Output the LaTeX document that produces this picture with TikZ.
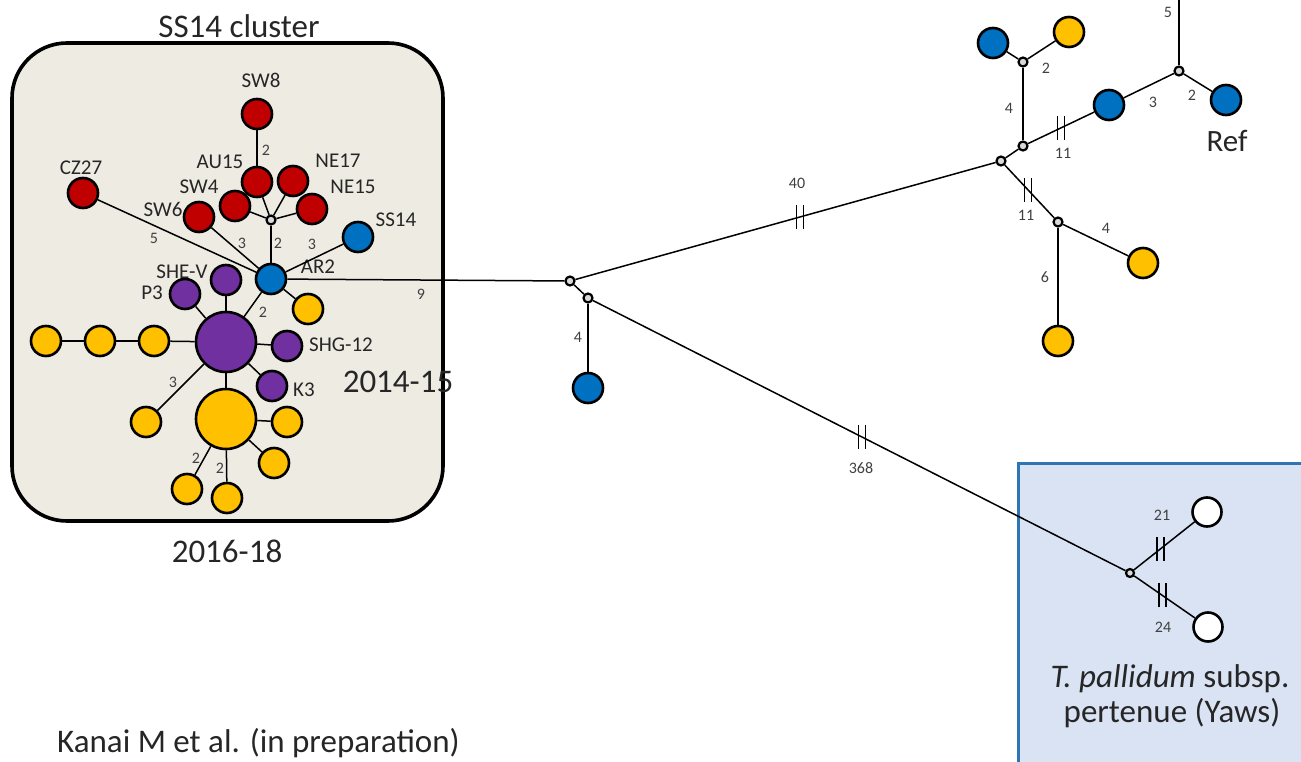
\documentclass[tikz,border=0pt]{standalone}
\usepackage{fontspec}
\setmainfont{Carlito}
\usetikzlibrary{decorations.markings}
\definecolor{cred}{HTML}{C00000}
\definecolor{cblue}{HTML}{0070C0}
\definecolor{cyel}{HTML}{FFC000}
\definecolor{cpur}{HTML}{7030A0}
\definecolor{boxfill}{HTML}{EEEBE3}
\definecolor{yawsfill}{HTML}{DAE3F3}
\definecolor{yawsline}{HTML}{2E75B6}
\definecolor{hubfill}{HTML}{D9D9D9}
\definecolor{lbl}{HTML}{404040}
\definecolor{txt}{HTML}{262626}
\tikzset{
  iso/.style={circle, draw=black, line width=2.6pt, minimum size=30pt, inner sep=0pt},
  bignode/.style={iso, minimum size=60pt},
  hub/.style={circle, draw=black, fill=hubfill, line width=2.2pt, minimum size=9pt, inner sep=0pt},
  wnode/.style={iso, fill=white, minimum size=29pt},
  lnk/.style={line width=1.5pt},
  nl/.style={font=\fontsize{21}{24}\selectfont, text=txt, inner sep=0pt},
  el/.style={font=\fontsize{16}{18}\selectfont, text=lbl, inner sep=0pt},
  bigt/.style={font=\fontsize{33}{38}\selectfont, text=txt, inner sep=0pt, anchor=base},
  brk/.style={postaction={decorate,decoration={markings,mark=at position #1 with {\pgftransformresetnontranslations\draw[line width=1.6pt] (-3.5pt,-12pt)--(-3.5pt,12pt) (3.5pt,-12pt)--(3.5pt,12pt);}}}}
}
\begin{document}
\begin{tikzpicture}[x=1pt,y=-1pt]
\useasboundingbox (0,0) rectangle (1301,762);
% boxes
\draw[line width=3.6pt, fill=boxfill, rounded corners=55pt] (12,43) rectangle (443,521);
\draw[yawsline, line width=3pt, fill=yawsfill] (1018,463) rectangle (1320,790);
% texts
\node[bigt] (tcl) at (239,38) {SS14 cluster};
\node[bigt] (t1415) at (398,392) {2014-15};
\node[bigt] (t1618) at (227,562) {2016-18};
\node[bigt, anchor=base west] (tkanai) at (57,752) {Kanai M et al. (in preparation)};
\node[bigt, font=\fontsize{31}{36}\selectfont] (tref) at (1227,152) {Ref};
\node[bigt] (ty1) at (1170,687) {\textit{T. pallidum} subsp.};
\node[bigt] (ty2) at (1172,722) {pertenue (Yaws)};
% cluster nodes
\node[iso, fill=cred] (sw8) at (257,114) {};
\node[iso, fill=cred] (au15) at (257,182) {};
\node[iso, fill=cred] (ne17) at (293,181) {};
\node[iso, fill=cred] (sw4) at (235,206) {};
\node[iso, fill=cred] (ne15) at (312,209) {};
\node[iso, fill=cred] (sw6) at (199,217) {};
\node[iso, fill=cred] (cz27) at (83,193) {};
\node[iso, fill=cblue] (ss14) at (358,237) {};
\node[hub] (h1) at (271,220) {};
\node[iso, fill=cblue] (ar2) at (271,279) {};
\node[iso, fill=cpur] (shev) at (226,280) {};
\node[iso, fill=cpur] (p3) at (185,294) {};
\node[bignode, fill=cpur] (bp) at (226,342) {};
\node[iso, fill=cyel] (y1) at (308,309) {};
\node[iso, fill=cyel] (c1) at (154,341) {};
\node[iso, fill=cyel] (c2) at (100,341) {};
\node[iso, fill=cyel] (c3) at (46,341) {};
\node[iso, fill=cpur] (shg) at (287,346) {};
\node[iso, fill=cpur] (k3) at (272,386) {};
\node[bignode, fill=cyel] (by) at (226,419) {};
\node[iso, fill=cyel] (y2) at (146,422) {};
\node[iso, fill=cyel] (y3) at (287,422) {};
\node[iso, fill=cyel] (y4) at (274,463) {};
\node[iso, fill=cyel] (y5) at (187,489) {};
\node[iso, fill=cyel] (y6) at (227,498) {};
% cluster node labels
\node[nl] (lsw8) at (261,80) {SW8};
\node[nl] (lau15) at (220,162) {AU15};
\node[nl] (lne17) at (338,161) {NE17};
\node[nl] (lsw4) at (199,187) {SW4};
\node[nl] (lne15) at (353,187) {NE15};
\node[nl] (lsw6) at (163,209) {SW6};
\node[nl] (lcz27) at (81,168) {CZ27};
\node[nl] (lss14) at (396,220) {SS14};
\node[nl] (lar2) at (318,267) {AR2};
\node[nl] (lshev) at (182,272) {SHE-V};
\node[nl] (lp3) at (152,293) {P3};
\node[nl] (lshg) at (341,345) {SHG-12};
\node[nl] (lk3) at (304,390) {K3};
% right-side nodes
\node[hub] (j1) at (570,281) {};
\node[hub] (j2) at (588,298) {};
\node[iso, fill=cblue] (b1) at (588,388) {};
\node[hub] (j3) at (1001,161) {};
\node[hub] (j4) at (1023,146) {};
\node[hub] (j5) at (1023,62) {};
\node[iso, fill=cblue] (b2) at (993,43) {};
\node[iso, fill=cyel] (y7) at (1069,32) {};
\node[iso, fill=cblue] (b3) at (1109,105) {};
\node[hub] (j6) at (1179,71) {};
\coordinate (topc) at (1179,-10);
\node[iso, fill=cblue] (ref) at (1226,100) {};
\node[hub] (j7) at (1058,222) {};
\node[iso, fill=cyel] (y8) at (1143,263) {};
\node[iso, fill=cyel] (y9) at (1058,341) {};
\node[hub, minimum size=8pt] (j8) at (1130,573) {};
\node[wnode] (w1) at (1207,512) {};
\node[wnode] (w2) at (1208,627) {};
% cluster edges
\draw[lnk] (sw8) -- (au15);
\draw[lnk] (au15) -- (h1);
\draw[lnk] (ne17) -- (h1);
\draw[lnk] (sw4) -- (h1);
\draw[lnk] (ne15) -- (h1);
\draw[lnk] (h1) -- (ar2);
\draw[lnk] (cz27) -- (ar2);
\draw[lnk] (sw6) -- (ar2);
\draw[lnk] (ss14) -- (ar2);
\draw[lnk] (ar2) -- (y1);
\draw[lnk] (ar2) -- (bp);
\draw[lnk] (bp) -- (shev);
\draw[lnk] (bp) -- (p3);
\draw[lnk] (bp) -- (shg);
\draw[lnk] (bp) -- (k3);
\draw[lnk] (bp) -- (c1);
\draw[lnk] (c1) -- (c2);
\draw[lnk] (c2) -- (c3);
\draw[lnk] (bp) -- (by);
\draw[lnk] (bp) -- (y2);
\draw[lnk] (by) -- (y3);
\draw[lnk] (by) -- (y4);
\draw[lnk] (by) -- (y5);
\draw[lnk] (by) -- (y6);
% right edges
\draw[lnk] (ar2) -- (j1);
\draw[lnk] (j1) -- (j2);
\draw[lnk] (j2) -- (b1);
\draw[lnk, brk=0.505] (j2) -- (j8);
\draw[lnk, brk=0.535] (j1) -- (j3);
\draw[lnk] (j3) -- (j4);
\draw[lnk] (j4) -- (j5);
\draw[lnk] (j5) -- (b2);
\draw[lnk] (j5) -- (y7);
\draw[lnk, brk=0.5] (j4) -- (b3);
\draw[lnk] (b3) -- (j6);
\draw[lnk] (j6) -- (topc);
\draw[lnk] (j6) -- (ref);
\draw[lnk, brk=0.47] (j3) -- (j7);
\draw[lnk] (j7) -- (y8);
\draw[lnk] (j7) -- (y9);
\draw[lnk, brk=0.44] (j8) -- (w1);
\draw[lnk, brk=0.465] (j8) -- (w2);
% edge labels
\node[el] (e1) at (266,150) {2};
\node[el] (e2) at (154,238) {5};
\node[el] (e3) at (242,243) {3};
\node[el] (e4) at (278,243) {2};
\node[el] (e5) at (312,244) {3};
\node[el] (e6) at (263,312) {2};
\node[el] (e7) at (173,382) {3};
\node[el] (e8) at (196,458) {2};
\node[el] (e9) at (220,468) {2};
\node[el] (e10) at (421,294) {9};
\node[el] (e11) at (797,183) {40};
\node[el] (e12) at (578,337) {4};
\node[el] (e13) at (861,468) {368};
\node[el] (e14) at (1046,68) {2};
\node[el] (e15) at (1009,108) {4};
\node[el] (e16) at (1063,153) {11};
\node[el] (e17) at (1153,102) {3};
\node[el] (e18) at (1168,12) {5};
\node[el] (e19) at (1192,95) {2};
\node[el] (e20) at (1026,215) {11};
\node[el] (e21) at (1106,228) {4};
\node[el] (e22) at (1045,277) {6};
\node[el] (e23) at (1162,515) {21};
\node[el] (e24) at (1163,627) {24};
\end{tikzpicture}
\end{document}
